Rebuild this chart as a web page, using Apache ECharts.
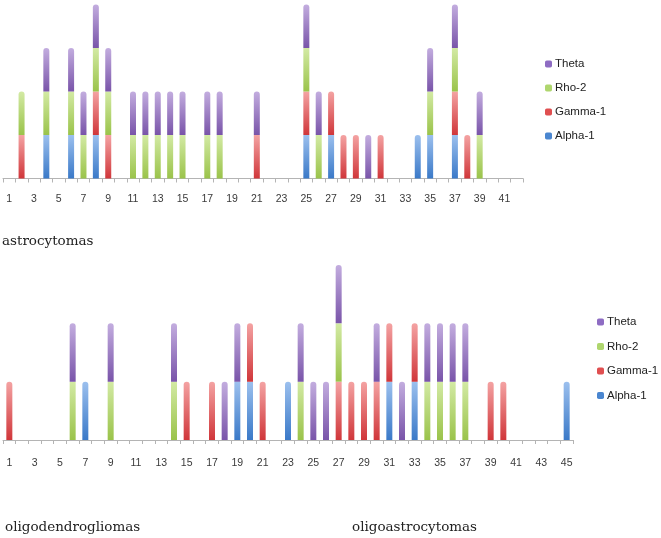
<!DOCTYPE html>
<html>
<head>
<meta charset="utf-8">
<script src="https://cdn.jsdelivr.net/npm/echarts@6/dist/echarts.min.js"></script>
<style>html,body{margin:0;padding:0;background:#fff}#c{width:661px;height:538px}</style>
</head>
<body>
<div id="c"></div>
<script>
// Top panel: astrocytomas, cases 1..42
var topCats = [];
for (var i = 1; i <= 42; i++) topCats.push(String(i));
//               1 2 3 4 5 6 7 8 9 10 11 12 13 14 15 16 17 18 19 20 21 22 23 24 25 26 27 28 29 30 31 32 33 34 35 36 37 38 39 40 41 42
var topAlpha = [0,0,0,1,0,1,0,1,0,0, 0, 0, 0, 0, 0, 0, 0, 0, 0, 0, 0, 0, 0, 0, 1, 0, 1, 0, 0, 0, 0, 0, 0, 1, 1, 0, 1, 0, 0, 0, 0, 0];
var topGamma = [0,1,0,0,0,0,0,1,1,0, 0, 0, 0, 0, 0, 0, 0, 0, 0, 0, 1, 0, 0, 0, 1, 0, 1, 1, 1, 0, 1, 0, 0, 0, 0, 0, 1, 1, 0, 0, 0, 0];
var topRho   = [0,1,0,1,0,1,1,1,1,0, 1, 1, 1, 1, 1, 0, 1, 1, 0, 0, 0, 0, 0, 0, 1, 1, 0, 0, 0, 0, 0, 0, 0, 0, 1, 0, 1, 0, 1, 0, 0, 0];
var topTheta = [0,0,0,1,0,1,1,1,1,0, 1, 1, 1, 1, 1, 0, 1, 1, 0, 0, 1, 0, 0, 0, 1, 1, 0, 0, 0, 1, 0, 0, 0, 0, 1, 0, 1, 0, 1, 0, 0, 0];

// Bottom panel: oligodendrogliomas / oligoastrocytomas, cases 1..45
var botCats = [];
for (var j = 1; j <= 45; j++) botCats.push(String(j));
//               1 2 3 4 5 6 7 8 9 10 11 12 13 14 15 16 17 18 19 20 21 22 23 24 25 26 27 28 29 30 31 32 33 34 35 36 37 38 39 40 41 42 43 44 45
var botAlpha = [0,0,0,0,0,0,1,0,0,0, 0, 0, 0, 0, 0, 0, 0, 0, 1, 1, 0, 0, 1, 0, 0, 0, 0, 0, 0, 0, 1, 0, 1, 0, 0, 0, 0, 0, 0, 0, 0, 0, 0, 0, 1];
var botGamma = [1,0,0,0,0,0,0,0,0,0, 0, 0, 0, 0, 1, 0, 1, 0, 0, 1, 1, 0, 0, 0, 0, 0, 1, 1, 1, 1, 1, 0, 1, 0, 0, 0, 0, 0, 1, 1, 0, 0, 0, 0, 0];
var botRho   = [0,0,0,0,0,1,0,0,1,0, 0, 0, 0, 1, 0, 0, 0, 0, 0, 0, 0, 0, 0, 1, 0, 0, 1, 0, 0, 0, 0, 0, 0, 1, 1, 1, 1, 0, 0, 0, 0, 0, 0, 0, 0];
var botTheta = [0,0,0,0,0,1,0,0,1,0, 0, 0, 0, 1, 0, 0, 0, 1, 1, 0, 0, 0, 0, 1, 1, 1, 1, 0, 0, 1, 0, 1, 0, 1, 1, 1, 1, 0, 0, 0, 0, 0, 0, 0, 0];

var seriesNames = ['Alpha-1', 'Gamma-1', 'Rho-2', 'Theta'];
var legendOrder = ['Theta', 'Rho-2', 'Gamma-1', 'Alpha-1'];
var panelTitles = ['astrocytomas', 'oligodendrogliomas', 'oligoastrocytomas'];

var grads = {
  'Alpha-1': ['#9cc0ee', '#3a79c8'],
  'Gamma-1': ['#f4a3a3', '#d0363a'],
  'Rho-2':   ['#d3eaa4', '#9ac34a'],
  'Theta':   ['#c3addf', '#7954a9']
};
var solid = {'Alpha-1': '#4a86d0', 'Gamma-1': '#e04f50', 'Rho-2': '#afd66e', 'Theta': '#8e6cc3'};

function grad(n) {
  return new echarts.graphic.LinearGradient(0, 0, 0, 1, [
    {offset: 0, color: grads[n][0]}, {offset: 1, color: grads[n][1]}
  ]);
}

function buildSeries(arrs, axisIdx, stackName) {
  var out = [];
  for (var s = 0; s < arrs.length; s++) {
    var data = [];
    for (var k = 0; k < arrs[s].length; k++) {
      var isTop = true;
      for (var h = s + 1; h < arrs.length; h++) if (arrs[h][k]) isTop = false;
      var v = arrs[s][k] ? arrs[s][k] : 0;
      data.push({value: v, itemStyle: {borderRadius: (v && isTop) ? [3, 3, 0, 0] : 0}});
    }
    out.push({
      name: seriesNames[s], type: 'bar', stack: stackName,
      xAxisIndex: axisIdx, yAxisIndex: axisIdx,
      barWidth: 6, data: data,
      itemStyle: {color: grad(seriesNames[s])},
      emphasis: {disabled: true}
    });
  }
  return out;
}

function legendData() {
  return legendOrder.map(function (n) { return {name: n, itemStyle: {color: solid[n]}}; });
}

var axisCommon = {
  type: 'category', boundaryGap: true,
  axisLine: {lineStyle: {color: '#b4b4b4', width: 1}},
  axisTick: {show: true, interval: 0, length: 4, lineStyle: {color: '#b4b4b4'}},
  axisLabel: {interval: 1, fontSize: 10.5, color: '#3a3a3a', fontFamily: 'Liberation Sans'}
};

var titleStyle = {fontFamily: 'DejaVu Serif', fontSize: 13.5, fontWeight: 'normal', color: '#222'};

var option = {
  animation: false,
  backgroundColor: '#fff',
  title: [
    {text: panelTitles[0], left: 2, top: 234, padding: 0, textStyle: titleStyle},
    {text: panelTitles[1], left: 5, top: 520, padding: 0, textStyle: titleStyle},
    {text: panelTitles[2], left: 352, top: 520, padding: 0, textStyle: titleStyle}
  ],
  legend: [
    {orient: 'vertical', left: 540, top: 52, itemWidth: 7, itemHeight: 7, itemGap: 10,
     data: legendData(), selectedMode: false,
     textStyle: {fontSize: 11.5, color: '#222', fontFamily: 'Liberation Sans', lineHeight: 14, padding: [0, 0, 0, -2]}},
    {orient: 'vertical', left: 592, top: 310, itemWidth: 7, itemHeight: 7, itemGap: 10.5,
     data: legendData(), selectedMode: false,
     textStyle: {fontSize: 11.5, color: '#222', fontFamily: 'Liberation Sans', lineHeight: 14, padding: [0, 0, 0, -2]}}
  ],
  grid: [
    {left: 3, top: 4.5, width: 520, height: 174, containLabel: false},
    {left: 3, top: 265, width: 570, height: 175, containLabel: false}
  ],
  xAxis: [
    Object.assign({}, axisCommon, {gridIndex: 0, data: topCats, axisLabel: Object.assign({}, axisCommon.axisLabel, {margin: 15})}),
    Object.assign({}, axisCommon, {gridIndex: 1, data: botCats, axisLabel: Object.assign({}, axisCommon.axisLabel, {margin: 18})})
  ],
  yAxis: [
    {type: 'value', gridIndex: 0, min: 0, max: 4, show: false, splitLine: {show: false}},
    {type: 'value', gridIndex: 1, min: 0, max: 3, show: false, splitLine: {show: false}}
  ],
  series: buildSeries([topAlpha, topGamma, topRho, topTheta], 0, 'top')
    .concat(buildSeries([botAlpha, botGamma, botRho, botTheta], 1, 'bot'))
};

var chart = echarts.init(document.getElementById('c'), null, {renderer: 'canvas'});
chart.setOption(option);
</script>
</body>
</html>
